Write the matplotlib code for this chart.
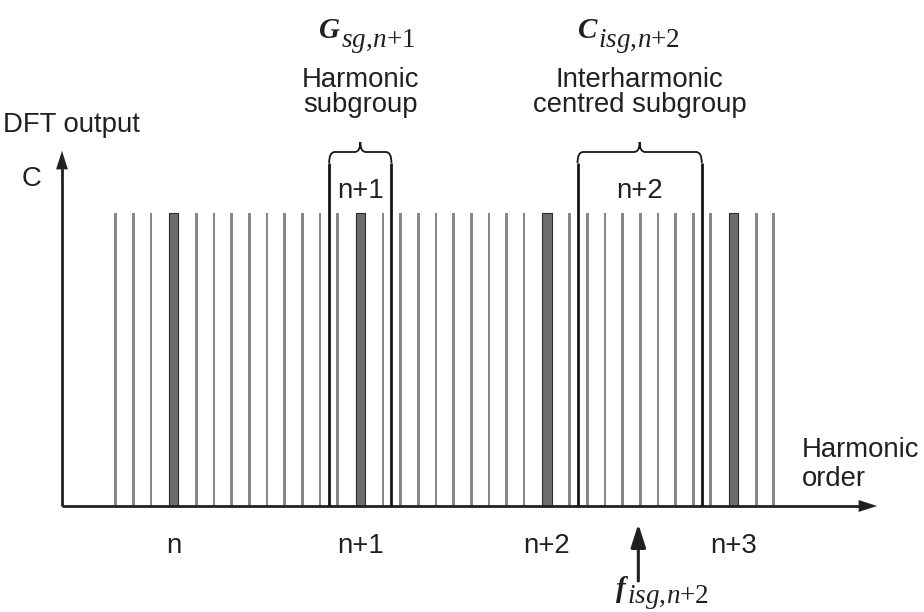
import matplotlib
matplotlib.use("Agg")
import matplotlib.pyplot as plt
from matplotlib.path import Path
from matplotlib.patches import PathPatch

# harmonic orders shown (relative to n) and their labels
harmonics = [0, 1, 2, 3]
harmonic_labels = ["n", "n+1", "n+2", "n+3"]

# DFT bin positions between two harmonics (fraction of harmonic spacing)
bin_offsets = [0.122, 0.216, 0.311, 0.405, 0.5, 0.595, 0.689, 0.784, 0.878]
bin_range = (-0.32, 3.22)
amplitude = 1.0

# subgroups: (centre, half width, label)
harm_subgroup = (1.0, 0.167, "n+1")
inter_subgroup = (2.497, 0.333, "n+2")
f_isg = 2.49

plt.rcParams["font.family"] = ["Liberation Sans", "DejaVu Sans"]
plt.rcParams["mathtext.fontset"] = "custom"
plt.rcParams["mathtext.rm"] = "Liberation Serif"
plt.rcParams["mathtext.it"] = "Liberation Serif:italic"

fig = plt.figure(figsize=(9.24, 6.12), dpi=100)
ax = fig.add_axes([0, 0, 1, 1])
ax.axis("off")

# pixel layout: n at x=173.7px, 186.6 px per harmonic; axis at y=506px, top of bars 213px
sx, x0 = 186.6, 173.7
sy, y0 = 292.7, 506.0
ax.set_xlim(-x0 / sx, (924 - x0) / sx)
ax.set_ylim(-(612 - y0) / sy, y0 / sy)


def px(xp, yp):
    return (xp - x0) / sx, (y0 - yp) / sy


txt = "#231f20"
fs = 19.8

# interharmonic bins
bins = []
for h in range(-1, 4):
    for o in bin_offsets:
        x = h + o
        if bin_range[0] <= x <= bin_range[1]:
            bins.append(x)
ax.bar(bins, [amplitude] * len(bins), width=0.0145, color="#878787", zorder=2)
ax.bar(harmonics, [amplitude] * len(harmonics), width=0.05, color="#6d6d6d",
       edgecolor="#2b2b2b", linewidth=0.8, zorder=2)

# axes arrows
ax_left = px(62, 0)[0]
ax.plot([ax_left, px(860, 0)[0]], [0, 0], color=txt, lw=2.0, zorder=3, solid_capstyle="butt")
ax.plot([ax_left, ax_left], [0, px(0, 168)[1]], color=txt, lw=2.0, zorder=3, solid_capstyle="butt")
ax.annotate("", xy=px(877, 506), xytext=px(850, 506),
            arrowprops=dict(arrowstyle="-|>,head_length=1.3,head_width=0.42", color=txt,
                            lw=0.1, shrinkA=0, shrinkB=0, mutation_scale=10))
ax.annotate("", xy=(ax_left, px(0, 151)[1]), xytext=(ax_left, px(0, 180)[1]),
            arrowprops=dict(arrowstyle="-|>,head_length=1.3,head_width=0.42", color=txt,
                            lw=0.1, shrinkA=0, shrinkB=0, mutation_scale=10))


def subgroup(centre, half, label):
    yl = px(0, 163)[1]
    yb = px(0, 152)[1]
    yt = px(0, 142)[1]
    xl, xr = centre - half, centre + half
    ax.vlines([xl, xr], 0, yl, color="#1a1512", lw=2.0, zorder=4)
    r = 0.03
    c = 0.03
    verts = [(xl, yl), (xl, yb), (xl + r, yb),
             (centre - c, yb), (centre, yb), (centre, yt),
             (centre, yb), (centre + c, yb),
             (xr - r, yb), (xr, yb), (xr, yl)]
    codes = [Path.MOVETO, Path.CURVE3, Path.CURVE3,
             Path.LINETO, Path.CURVE3, Path.CURVE3,
             Path.CURVE3, Path.CURVE3,
             Path.LINETO, Path.CURVE3, Path.CURVE3]
    ax.add_patch(PathPatch(Path(verts, codes), fill=False, ec="#1a1512", lw=1.3, zorder=4))
    ax.text(centre, px(0, 198)[1], label, ha="center", va="baseline", fontsize=fs, color=txt)


subgroup(*harm_subgroup)
subgroup(*inter_subgroup)

# harmonic order labels
for h, lab in zip(harmonics, harmonic_labels):
    ax.text(h, px(0, 553)[1], lab, ha="center", va="baseline", fontsize=fs, color=txt)


def label(xp, yp, s, ha="left"):
    ax.text(*px(xp, yp), s, ha=ha, va="baseline", fontsize=fs, color=txt)


label(3, 132, "DFT output")
label(22, 186, "C")
label(802, 457, "Harmonic")
label(802, 486, "order")
label(harm_subgroup[0] * sx + x0, 87, "Harmonic", ha="center")
label(harm_subgroup[0] * sx + x0, 112, "subgroup", ha="center")
label(inter_subgroup[0] * sx + x0, 87, "Interharmonic", ha="center")
label(inter_subgroup[0] * sx + x0, 112, "centred subgroup", ha="center")


# symbol labels
def symbol(xp, yp, letter, sub, dy):
    ax.text(*px(xp, yp), letter, ha="right", va="baseline", fontsize=21,
            family="Liberation Serif", fontweight="bold", fontstyle="italic", color=txt)
    ax.text(*px(xp + 1, yp + dy), sub, ha="left", va="baseline", fontsize=19.5,
            family="Liberation Serif", color=txt)


symbol(340, 38, "G", r"$sg,\!n$+1", 9)
symbol(597, 38, "C", r"$isg,\!n$+2", 9)
symbol(626, 597, "f", r"$isg,\!n$+2", 6)

# f_isg arrow
ax.annotate("", xy=(f_isg, px(0, 524)[1]), xytext=(f_isg, px(0, 581)[1]),
            arrowprops=dict(arrowstyle="-|>,head_length=1.4,head_width=0.45", color=txt,
                            lw=2.2, shrinkA=0, shrinkB=0, mutation_scale=10))

fig.savefig("out.png", dpi=100)
